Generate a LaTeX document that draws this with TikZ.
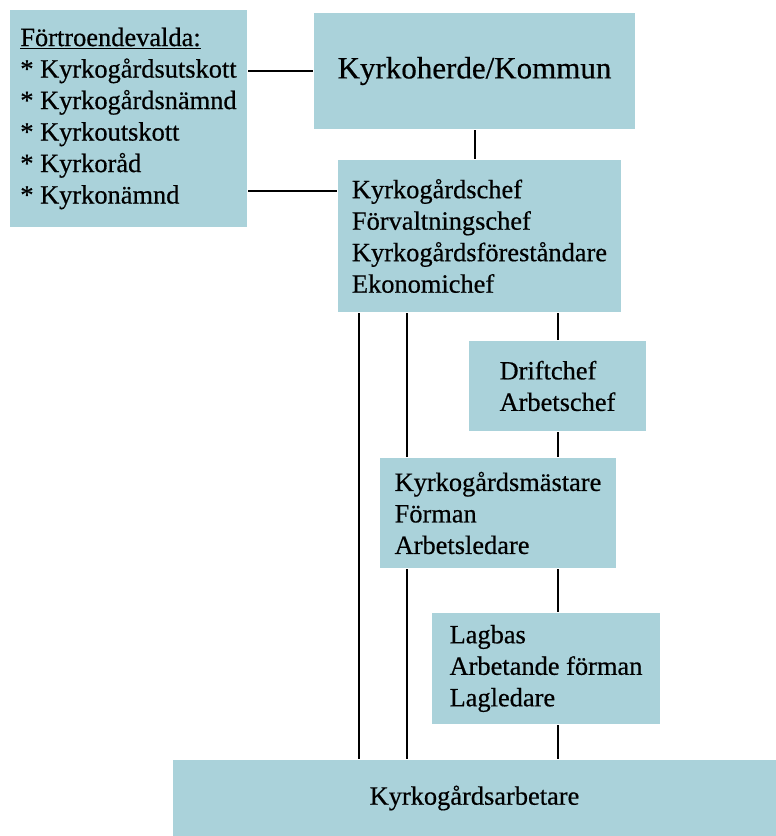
\documentclass[tikz,border=0pt]{standalone}
\usepackage{fontspec}
\setmainfont{Liberation Serif}[FakeBold=0.5]
\usepackage{tikz}
\definecolor{boxblue}{RGB}{170,210,218}

\begin{document}
\begin{tikzpicture}[x=1pt, y=-1pt, line width=2pt, main/.style = {fill=boxblue, inner sep=0pt, align=left, font=\fontsize{26.4}{31.5}\selectfont}]
	\useasboundingbox (0,0) rectangle (776,836);
	\node[main, minimum width=237pt, minimum height=217pt] (1) at (128.5,118.5) {\underline{Förtroendevalda:}\\{*} Kyrkogårdsutskott\\{*} Kyrkogårdsnämnd\\{*} Kyrkoutskott\\{*} Kyrkoråd\\{*} Kyrkonämnd};
	\node[main, minimum width=321pt, minimum height=116pt, font=\fontsize{31}{37}\selectfont] (2) at (474.5,71) {Kyrkoherde/Kommun};
	\node[main, minimum width=283pt, minimum height=152pt] (3) at (479.5,236) {Kyrkogårdschef\\Förvaltningschef\\Kyrkogårdsföreståndare\\Ekonomichef};
	\node[main, minimum width=177pt, minimum height=90pt] (4) at (557.5,386) {Driftchef\\Arbetschef};
	\node[main, minimum width=236pt, minimum height=110pt] (5) at (498,513) {Kyrkogårdsmästare\\Förman\\Arbetsledare};
	\node[main, minimum width=228pt, minimum height=111pt] (6) at (546,668.5) {Lagbas\\Arbetande förman\\Lagledare};
	\node[main, minimum width=603pt, minimum height=76pt] (7) at (474.5,798) {Kyrkogårdsarbetare};

	\coordinate (c1) at ([yshift=-32pt]3.north west);
	\coordinate (a) at ([xshift=22pt]3.south west);
	\coordinate (b) at ([xshift=28pt]5.north west);
	\coordinate (c) at ([xshift=28pt]5.south west);

	\draw (2.west -| 1.east) -- (2.west);
	\draw (c1 -| 1.east) -- (c1);
	\draw (2.south) -- (2.south |- 3.north);
	\draw (a) -- (a |- 7.north);
	\draw (b) -- (b |- 3.south);
	\draw (c) -- (c |- 7.north);
	\draw (4.north) -- (4.north |- 3.south);
	\draw (4.south) -- (4.south |- 5.north);
	\draw (5.south -| 4.south) -- (4.south |- 6.north);
	\draw (6.south -| 4.south) -- (4.south |- 7.north);
\end{tikzpicture}
\end{document}
